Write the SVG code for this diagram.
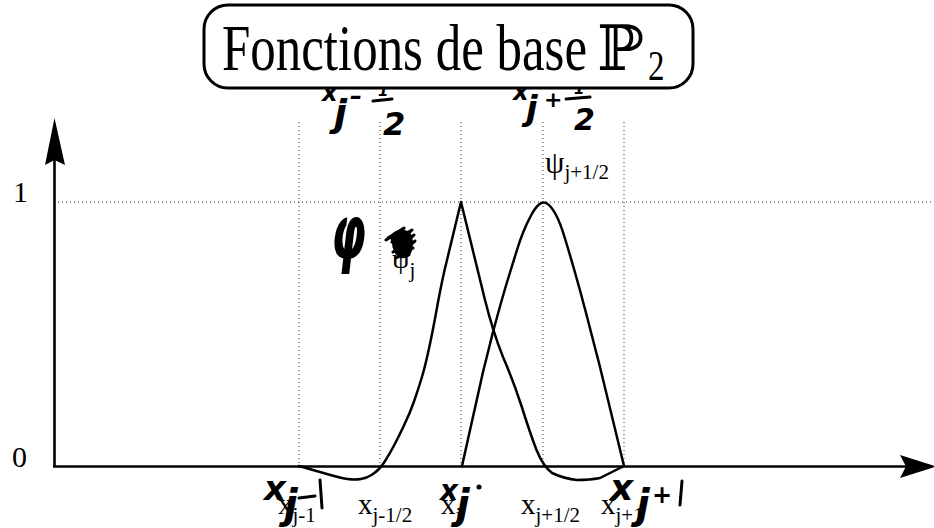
<svg xmlns="http://www.w3.org/2000/svg" width="934" height="528" viewBox="0 0 934 528">
<style>
.pr{font-family:"Liberation Serif","Times New Roman",serif;fill:#000}
.hw{font-family:"DejaVu Sans",sans-serif;font-style:oblique;font-weight:bold;fill:#000}
.dot{stroke:#333;stroke-width:1;stroke-dasharray:1 3;fill:none}
.ax{stroke:#000;stroke-width:2.6;fill:none}
.cv{stroke:#000;stroke-width:2.5;fill:none;stroke-linejoin:round;stroke-linecap:round}
.hs{stroke:#000;stroke-width:3;fill:none;stroke-linecap:round;stroke-linejoin:round}
</style>
<rect width="934" height="528" fill="#fff"/>

<g id="grid">
<line class="dot" x1="54" y1="202" x2="934" y2="202"/>
<line class="dot" x1="299" y1="122" x2="299" y2="466"/>
<line class="dot" x1="380" y1="122" x2="380" y2="466"/>
<line class="dot" x1="461" y1="122" x2="461" y2="466"/>
<line class="dot" x1="543" y1="122" x2="543" y2="466"/>
<line class="dot" x1="624" y1="122" x2="624" y2="466"/>
</g>

<g id="axes">
<line class="ax" x1="54.5" y1="467" x2="54.5" y2="158"/>
<polygon points="54.5,118 45,165 54.5,160 65,165" fill="#000"/>
<line class="ax" x1="53" y1="466.5" x2="906" y2="466.5"/>
<polygon points="936,466.5 900,455 906,466.5 900,478" fill="#000"/>
</g>

<g id="connectors">
<path id="phi_j" class="cv" d="M299,466 L320,472 Q340,478 347.5,479 Q355,480 361,479 Q367,478 371.5,475 Q376,472 379,469 Q382,466 386,459.5 Q390,453 393.5,446.5 Q397,440 403.5,426.5 Q410,413 414,401.5 Q418,390 421.5,378.5 Q425,367 429,348.5 Q433,330 437.5,305 Q442,280 447,260 L461,202 L485,300 Q493,332 503,357 Q513,380 521.5,406 Q530,433 536.5,450 Q543,466 552,473 Q565,479 577,480 Q590,480 600,478 L624,466"/>
<path id="psi_j12" class="cv" d="M462,466 L483,372 L493,332 Q503,295 508,279 Q513,263 516.5,251.5 Q520,240 523.5,231.5 Q527,223 531,215.5 Q535,208 539,204.5 Q543,201 547,203.5 Q551,206 555.5,214 Q560,222 565,238.5 Q570,255 575,272.5 Q580,290 585,309 Q590,328 600,367 L624,466"/>
</g>

<g id="handwriting">
<path class="hs" d="M388,238 l16,-10 l-12,14 l20,-12 l-18,17 l20,-12 l-17,16 l18,-10 l-14,12 l12,-5 M386,240 l10,-6 M393,252 l20,-10 M396,258 l14,-7" stroke-width="4"/>
<path d="M390,236 Q398,226 410,232 Q416,242 410,256 Q400,262 394,252 Z" fill="#000"/>
<text class="hw" transform="translate(331,258) scale(0.72,1.2)" font-size="62" font-weight="bold">φ</text>
<text class="hw" x="322" y="101" font-size="24">x</text>
<text class="hw" x="334" y="126" font-size="38">j</text>
<text class="hw" x="350" y="104" font-size="24">–</text>
<text class="hw" x="378" y="96" font-size="15">1</text>
<line class="hs" x1="373" y1="101" x2="392" y2="99"/>
<text class="hw" x="383" y="135" font-size="32">2</text>
<text class="hw" x="513" y="100" font-size="24">x</text>
<text class="hw" x="526" y="120" font-size="34">j</text>
<text class="hw" x="544" y="107" font-size="22">+</text>
<text class="hw" x="574" y="94" font-size="15">1</text>
<line class="hs" x1="566" y1="99" x2="590" y2="97"/>
<text class="hw" x="574" y="130" font-size="30">2</text>
<text class="hw" x="264" y="500" font-size="34">x</text>
<text class="hw" x="284" y="518" font-size="40">j</text>
<line class="hs" x1="299" y1="498" x2="315" y2="496"/>
<line class="hs" x1="320" y1="480" x2="322" y2="508"/>
<text class="hw" x="440" y="500" font-size="28">x</text>
<text class="hw" x="456" y="518" font-size="40">j</text>
<circle cx="479" cy="487" r="2.5" fill="#000"/>
<text class="hw" x="610" y="500" font-size="36">x</text>
<text class="hw" x="636" y="518" font-size="40">j</text>
<text class="hw" x="652" y="503" font-size="24">+</text>
<line class="hs" x1="682" y1="481" x2="680" y2="505"/>
</g>

<g id="title">
<rect x="204" y="5" width="489" height="83" rx="24" ry="24" fill="#fff" stroke="#000" stroke-width="3"/>
<text class="pr" transform="translate(222,70) scale(1,1.25)" font-size="52" textLength="365" lengthAdjust="spacingAndGlyphs">Fonctions de base</text>
<text transform="translate(597,70) scale(1.25,1.25)" font-size="50" font-family="DejaVu Serif, DejaVu Sans, serif">ℙ</text>
<text class="pr" transform="translate(648,80) scale(1,1.25)" font-size="33">2</text>
</g>

<g id="labels">
<text class="pr" x="13" y="202" font-size="30">1</text>
<text class="pr" x="12" y="467" font-size="30">0</text>
<text class="pr" x="545" y="173" font-size="31">ψ<tspan font-size="21" dy="6">j+1/2</tspan></text>
<text class="pr" x="392" y="268" font-size="28">ψ<tspan font-size="21" dy="9">j</tspan></text>
<text class="pr" x="278" y="514" font-size="29">x<tspan font-size="21" dy="8">j-1</tspan></text>
<text class="pr" x="358" y="514" font-size="29">x<tspan font-size="21" dy="8">j-1/2</tspan></text>
<text class="pr" x="441" y="514" font-size="29">x<tspan font-size="21" dy="8">j</tspan></text>
<text class="pr" x="521" y="514" font-size="29">x<tspan font-size="21" dy="8">j+1/2</tspan></text>
<text class="pr" x="601" y="514" font-size="29">x<tspan font-size="21" dy="8">j+1</tspan></text>
</g>
</svg>
